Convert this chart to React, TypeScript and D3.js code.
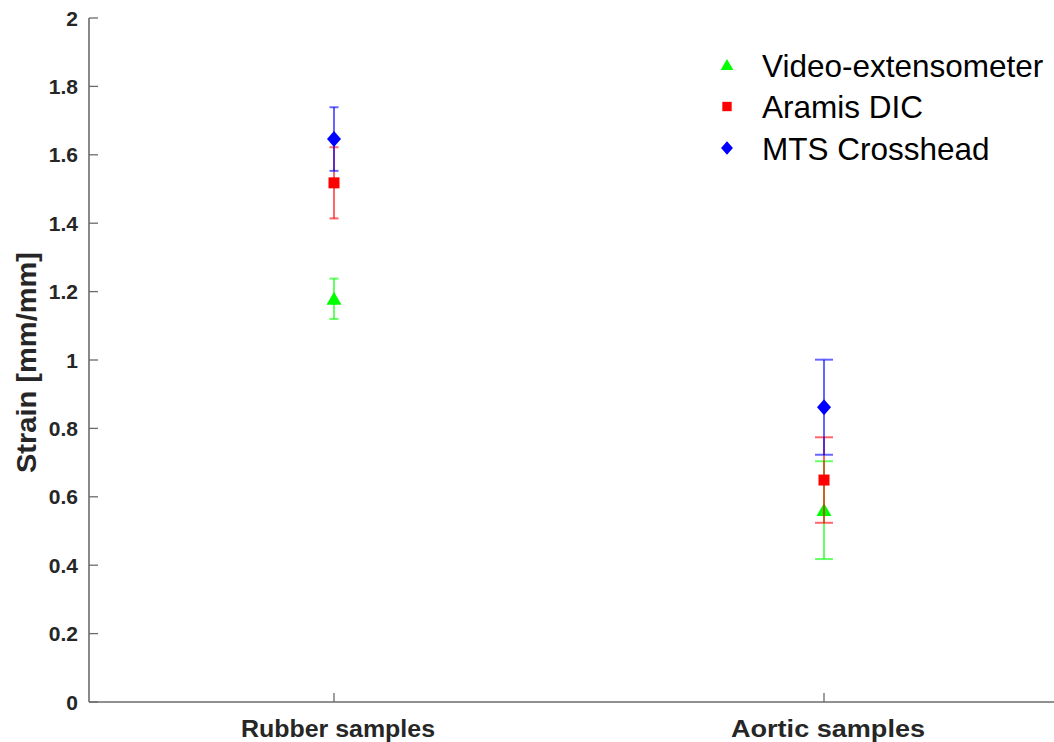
import React from "react";
import * as d3 from "d3";

const categories = ["Rubber samples", "Aortic samples"];
const seriesNames = ["Video-extensometer", "Aramis DIC", "MTS Crosshead"];
const videoMean = [1.179, 0.561];
const videoErr = [0.059, 0.143];
const aramisMean = [1.518, 0.649];
const aramisErr = [0.104, 0.125];
const mtsMean = [1.646, 0.862];
const mtsErr = [0.093, 0.139];
const yTicks = [0, 0.2, 0.4, 0.6, 0.8, 1, 1.2, 1.4, 1.6, 1.8, 2];

const W = 1054;
const H = 742;
const left = 89;
const top = 18;
const bottom = 702;

const colors = ["#00ff00", "#ff0000", "#0000ff"];
const shapes = ["triangle", "square", "diamond"];
const capHalf = [4.5, 9];

function Marker({ shape, x, y, color, scale = 1 }: any) {
  if (shape === "triangle") {
    const w = 7.5 * scale, h = 13 * scale;
    return <path d={`M${x},${y - h * 0.55} L${x + w},${y + h * 0.45} L${x - w},${y + h * 0.45} Z`} fill={color} />;
  }
  if (shape === "square") {
    const s = 5.5 * scale;
    return <rect x={x - s} y={y - s} width={2 * s} height={2 * s} fill={color} />;
  }
  const w = 7 * scale, h = 8 * scale;
  return <path d={`M${x},${y - h} L${x + w},${y} L${x},${y + h} L${x - w},${y} Z`} fill={color} />;
}

export default function App() {
  const x = d3.scalePoint<string>().domain(categories).range([left, left + 980]).padding(0.5);
  const y = d3.scaleLinear().domain([0, 2]).range([bottom, top]);
  const series = [
    { mean: videoMean, err: videoErr },
    { mean: aramisMean, err: aramisErr },
    { mean: mtsMean, err: mtsErr },
  ];
  const axisColor = "#6b6b6b";
  const textColor = "#262626";
  return (
    <svg width={W} height={H} style={{ position: "absolute", left: 0, top: 0, background: "#fff" }}
      fontFamily="'Liberation Sans', Arial, sans-serif">
      <rect x={0} y={0} width={W} height={H} fill="#fff" />
      {/* axes */}
      <line x1={left} y1={top} x2={left} y2={bottom} stroke={axisColor} strokeWidth={1.6} />
      <line x1={left} y1={bottom} x2={W} y2={bottom} stroke={axisColor} strokeWidth={1.6} />
      {yTicks.map((t) => (
        <g key={t}>
          <line x1={left} x2={left + 9} y1={y(t)} y2={y(t)} stroke={axisColor} strokeWidth={1.3} />
          <text x={78} y={y(t) + 7.5} textAnchor="end" fontSize={21} fontWeight="bold" fill={textColor}>
            {d3.format("~g")(t)}
          </text>
        </g>
      ))}
      {categories.map((c) => (
        <g key={c}>
          <line x1={x(c)} x2={x(c)} y1={bottom} y2={bottom - 9} stroke={axisColor} strokeWidth={1.3} />
          <text x={(x(c) as number) + 4} y={737} textAnchor="middle" fontSize={23} fontWeight="bold" fill={textColor}
            textLength={194} lengthAdjust="spacingAndGlyphs">
            {c}
          </text>
        </g>
      ))}
      <text transform={`translate(36,362.5) rotate(-90)`} textAnchor="middle" fontSize={28} fontWeight="bold"
        fill={textColor} textLength={221} lengthAdjust="spacingAndGlyphs">
        Strain [mm/mm]
      </text>
      {/* series */}
      {series.map((s, si) => (
        <g key={si}>
          {categories.map((c, ci) => {
            const cx = x(c) as number;
            const m = s.mean[ci];
            const e = s.err[ci];
            const y1 = y(m + e), y2 = y(m - e);
            const hw = capHalf[ci];
            return (
              <g key={c}>
                <g stroke={colors[si]} strokeWidth={2} strokeOpacity={0.6}>
                  <line x1={cx} x2={cx} y1={y1} y2={y2} />
                  <line x1={cx - hw} x2={cx + hw} y1={y1} y2={y1} />
                  <line x1={cx - hw} x2={cx + hw} y1={y2} y2={y2} />
                </g>
                <Marker shape={shapes[si]} x={cx} y={y(m)} color={colors[si]} />
              </g>
            );
          })}
        </g>
      ))}
      {/* legend */}
      {seriesNames.map((n, i) => {
        const cy = 65 + i * 41.5;
        return (
          <g key={n}>
            <Marker shape={shapes[i]} x={727} y={cy} color={colors[i]} scale={0.85} />
            <text x={762} y={cy + 11.5} fontSize={31.5} fill="#000">{n}</text>
          </g>
        );
      })}
    </svg>
  );
}
